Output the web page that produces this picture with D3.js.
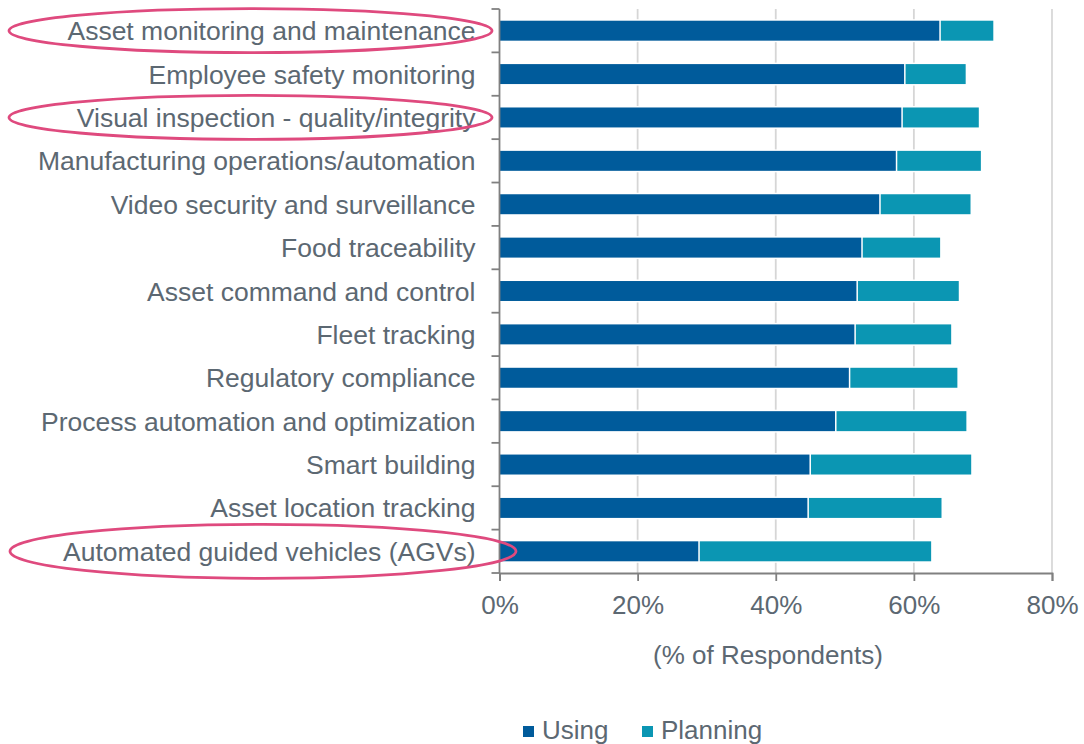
<!DOCTYPE html>
<html>
<head>
<meta charset="utf-8">
<script src="https://cdn.jsdelivr.net/npm/d3@7"></script>
<style>
    body { margin: 0; background: #fff; }
    text { font-family: "Liberation Sans", Arial, sans-serif; }
</style>
</head>
<body>
<div id="barchart"></div>
<script>
// categories top to bottom
const categories = [
    "Asset monitoring and maintenance",
    "Employee safety monitoring",
    "Visual inspection - quality/integrity",
    "Manufacturing operations/automation",
    "Video security and surveillance",
    "Food traceability",
    "Asset command and control",
    "Fleet tracking",
    "Regulatory compliance",
    "Process automation and optimization",
    "Smart building",
    "Asset location tracking",
    "Automated guided vehicles (AGVs)"
];

// share of respondents (%)
const usingValues    = [63.9, 58.8, 58.4, 57.6, 55.2, 52.6, 51.9, 51.6, 50.8, 48.8, 45.1, 44.8, 29.0];
const planningValues = [ 7.6,  8.7, 11.0, 12.1, 13.0, 11.2, 14.6, 13.8, 15.5, 18.8, 23.2, 19.2, 33.5];

const seriesNames = ["Using", "Planning"];
const tickValues = [0, 20, 40, 60, 80];

// circled rows
const highlighted = [
    "Asset monitoring and maintenance",
    "Visual inspection - quality/integrity",
    "Automated guided vehicles (AGVs)"
];

const colors = { Using: "#005b9b", Planning: "#0b96b3" };
const textColor = "#5c6872";

const W = 1084, H = 744;
const plotLeft = 499.5, plotRight = 1052, plotTop = 9, plotBottom = 573;

const svg = d3.select("#barchart")
    .append("svg")
    .attr("width", W)
    .attr("height", H);

svg.append("rect").attr("width", W).attr("height", H).attr("fill", "#fff");

const x = d3.scaleLinear().domain([0, 80]).range([plotLeft, plotRight]);
const y = d3.scaleBand()
    .domain(categories)
    .range([plotTop, plotBottom])
    .paddingInner(0.54)
    .paddingOuter(0.27);

// gridlines
svg.append("g")
    .selectAll("line")
    .data(tickValues.filter(d => d > 0))
    .join("line")
    .attr("x1", d => x(d))
    .attr("x2", d => x(d))
    .attr("y1", plotTop)
    .attr("y2", plotBottom)
    .attr("stroke", d => d === 80 ? "#c4c4c4" : "#d6d6d6")
    .attr("stroke-width", d => d === 80 ? 1.2 : 1.8);

// stacked bars
const rows = categories.map((c, i) => ({ c, Using: usingValues[i], Planning: planningValues[i] }));
const stacked = d3.stack().keys(seriesNames)(rows);

svg.append("g")
    .selectAll("g")
    .data(stacked)
    .join("g")
    .attr("fill", s => colors[s.key])
    .selectAll("rect")
    .data(s => s)
    .join("rect")
    .attr("x", d => x(d[0]))
    .attr("y", d => y(d.data.c))
    .attr("width", d => x(d[1]) - x(d[0]))
    .attr("height", y.bandwidth())
    .attr("stroke", "#fff")
    .attr("stroke-width", 3)
    .style("paint-order", "stroke");

// y axis: line with ticks at category boundaries
const gap = (y.step() - y.bandwidth()) / 2;
const boundaries = categories.map(c => y(c) - gap).concat([plotBottom]);
const axisColor = "#808080";

svg.append("line")
    .attr("x1", plotLeft).attr("x2", plotLeft)
    .attr("y1", plotTop).attr("y2", plotBottom)
    .attr("stroke", axisColor).attr("stroke-width", 1.8);

svg.append("g")
    .selectAll("line")
    .data(boundaries)
    .join("line")
    .attr("x1", plotLeft - 8).attr("x2", plotLeft)
    .attr("y1", d => d).attr("y2", d => d)
    .attr("stroke", axisColor).attr("stroke-width", 1.8);

// category labels
svg.append("g")
    .selectAll("text")
    .data(categories)
    .join("text")
    .attr("x", plotLeft - 24)
    .attr("y", d => y(d) + y.bandwidth() / 2)
    .attr("dy", ".36em")
    .attr("text-anchor", "end")
    .attr("font-size", 26.5)
    .attr("fill", textColor)
    .text(d => d);

// x axis
const xAxis = svg.append("g")
    .attr("transform", `translate(0,${plotBottom})`)
    .call(d3.axisBottom(x)
        .tickValues(tickValues)
        .tickFormat(d => d + "%")
        .tickSize(8)
        .tickPadding(15));
xAxis.select(".domain").attr("stroke", axisColor).attr("stroke-width", 1.8);
xAxis.selectAll(".tick line").attr("stroke", axisColor).attr("stroke-width", 1.8);
xAxis.selectAll(".tick text")
    .attr("font-size", 26)
    .attr("font-family", "Liberation Sans, Arial, sans-serif")
    .attr("fill", textColor);

// x-axis title
svg.append("text")
    .attr("x", 768)
    .attr("y", 664)
    .attr("text-anchor", "middle")
    .attr("font-size", 26)
    .attr("fill", textColor)
    .text("(% of Respondents)");

// legend
const legend = svg.append("g").attr("transform", "translate(523,739)");
const legendX = [0, 119];
seriesNames.forEach((name, i) => {
    legend.append("rect")
        .attr("x", legendX[i])
        .attr("y", -13)
        .attr("width", 11)
        .attr("height", 11)
        .attr("fill", colors[name]);
    legend.append("text")
        .attr("x", legendX[i] + 19)
        .attr("y", 0)
        .attr("font-size", 26)
        .attr("fill", textColor)
        .text(name);
});

// pink ellipses round the highlighted labels
const ellipseExtent = {
    "Asset monitoring and maintenance": { x0: 9, x1: 492, ry: 22 },
    "Visual inspection - quality/integrity": { x0: 9, x1: 492, ry: 22 },
    "Automated guided vehicles (AGVs)": { x0: 10, x1: 516, ry: 27 }
};
svg.append("g")
    .selectAll("ellipse")
    .data(highlighted)
    .join("ellipse")
    .attr("cx", d => (ellipseExtent[d].x0 + ellipseExtent[d].x1) / 2)
    .attr("cy", d => y(d) + y.bandwidth() / 2)
    .attr("rx", d => (ellipseExtent[d].x1 - ellipseExtent[d].x0) / 2)
    .attr("ry", d => ellipseExtent[d].ry)
    .attr("fill", "none")
    .attr("stroke", "#df4a7e")
    .attr("stroke-width", 2.8);
</script>
</body>
</html>
